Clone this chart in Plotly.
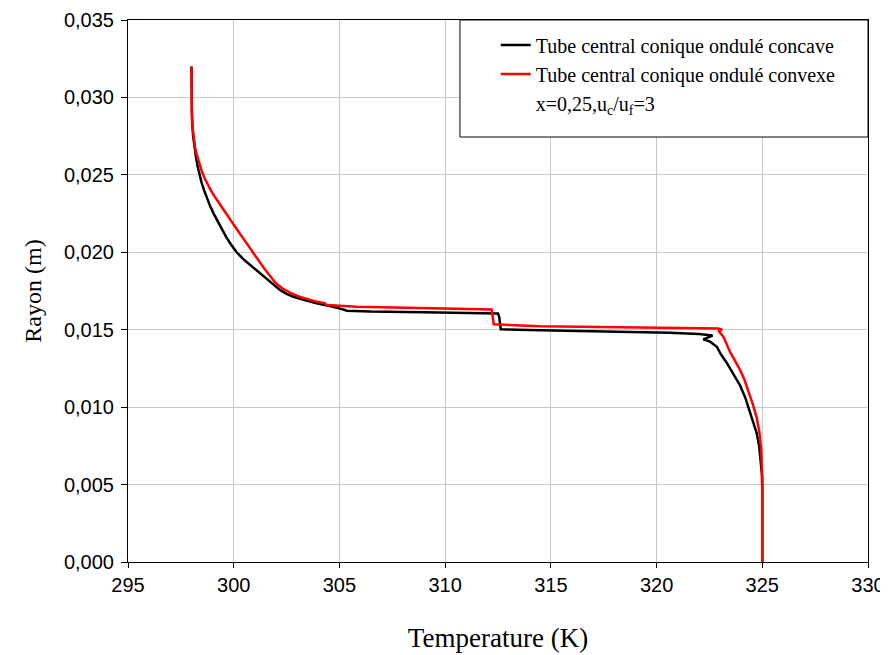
import plotly.graph_objects as go

# Concave (black) series: temperature (K) and radius (m)
concave_T = [298.0, 298.0, 298.03, 298.08, 298.14, 298.22, 298.30, 298.38, 298.48, 298.60,
             298.73, 298.88, 299.05, 299.24, 299.43, 299.64, 299.87, 300.14, 300.5, 300.93,
             301.3, 301.64, 302.19, 302.5, 302.82, 303.4, 303.92, 304.6, 305.03, 305.2,
             305.34, 306.45, 308.97, 312.36, 312.50, 312.56, 312.63, 314.5, 318.0, 320.6,
             322.0, 322.53, 322.65, 322.21, 322.53, 322.85, 323.05, 323.3, 323.6, 323.95,
             324.2, 324.45, 324.62, 324.74, 324.85, 324.93, 324.98, 325.0, 325.0]
concave_r = [0.0320, 0.0300, 0.0285, 0.0275, 0.0268, 0.0261, 0.0255, 0.0250, 0.0245, 0.0240,
             0.0235, 0.0230, 0.0225, 0.0220, 0.0215, 0.0210, 0.0205, 0.0200, 0.0195, 0.0190,
             0.0186, 0.0182, 0.01757, 0.01732, 0.01713, 0.0169, 0.01671, 0.01652, 0.01638, 0.0163,
             0.01623, 0.01617, 0.01612, 0.01606, 0.01604, 0.0158, 0.01503, 0.01497, 0.0149, 0.01481,
             0.01472, 0.01466, 0.01462, 0.01438, 0.01423, 0.0139, 0.0134, 0.0129, 0.0122, 0.0114,
             0.0106, 0.0096, 0.0089, 0.0083, 0.0075, 0.0066, 0.0057, 0.0047, 0.0]

# Convex (red) series
convex_T = [298.0, 298.0, 298.02, 298.06, 298.12, 298.17, 298.23, 298.31, 298.40, 298.50,
            298.62, 298.76, 298.92, 299.10, 299.29, 299.64, 299.89, 300.14, 300.39, 300.64,
            300.89, 301.15, 301.42, 301.70, 302.0, 302.32, 302.68, 303.1, 303.55, 303.95,
            304.3, 304.4, 305.82, 312.12, 312.2, 312.3, 314.49, 320.16, 322.3, 322.9,
            323.1, 322.95, 323.16, 323.3, 323.5, 323.71, 323.95, 324.15, 324.34, 324.55,
            324.74, 324.86, 324.94, 324.98, 325.0, 325.0]
convex_r = [0.0320, 0.0300, 0.0290, 0.0280, 0.0272, 0.0268, 0.0264, 0.0260, 0.0256, 0.0252,
            0.0248, 0.0244, 0.0240, 0.0236, 0.0232, 0.0225, 0.0220, 0.0215, 0.0210, 0.0205,
            0.0200, 0.0195, 0.0190, 0.0185, 0.0180, 0.01765, 0.01738, 0.01713, 0.01693, 0.0168,
            0.01672, 0.0166, 0.01649, 0.01632, 0.0163, 0.01535, 0.01522, 0.01513, 0.01512, 0.01508,
            0.01502, 0.0149, 0.01455, 0.0141, 0.0135, 0.0130, 0.0124, 0.0118, 0.0111, 0.0102,
            0.0093, 0.0084, 0.0074, 0.0064, 0.0055, 0.0]

series_names = ["Tube central conique ondulé concave",
                "Tube central conique ondulé convexe",
                "x=0,25,u<sub>c</sub>/u<sub>f</sub>=3"]
x_ticks = [295, 300, 305, 310, 315, 320, 325, 330]
y_ticks = [0.0, 0.005, 0.010, 0.015, 0.020, 0.025, 0.030, 0.035]

fig = go.Figure()
fig.add_trace(go.Scatter(x=concave_T, y=concave_r, mode="lines", name=series_names[0],
                         line=dict(color="#000000", width=2.5)))
fig.add_trace(go.Scatter(x=convex_T, y=convex_r, mode="lines", name=series_names[1],
                         line=dict(color="#FF0000", width=2.5)))
fig.add_trace(go.Scatter(x=[None], y=[None], mode="lines", name=series_names[2],
                         line=dict(color="rgba(0,0,0,0)", width=0)))

fig.add_shape(type="rect", xref="paper", yref="paper", x0=0.4486, x1=1.0, y0=0.7841, y1=1.0,
              line=dict(color="black", width=1), fillcolor="white", layer="above")

fig.update_layout(
    width=880, height=647,
    margin=dict(l=120, r=20, t=12, b=93),
    paper_bgcolor="white", plot_bgcolor="white",
    separators=",.",
    showlegend=True,
    legend=dict(x=0.497, y=0.990, xanchor="left", yanchor="top",
                bgcolor="rgba(0,0,0,0)", borderwidth=0,
                font=dict(family="Liberation Serif", size=20, color="black"),
                tracegroupgap=0),
    xaxis=dict(range=[295, 330], tickvals=x_ticks, ticks="outside", ticklen=5,
               tickcolor="black", showline=True, linecolor="black", linewidth=1, mirror=True,
               showgrid=True, gridcolor="#C8C8C8", gridwidth=1, zeroline=False, automargin=False,
               tickfont=dict(family="Liberation Sans", size=20, color="black"),
               title=dict(text="Temperature (K)", standoff=33,
                          font=dict(family="Liberation Serif", size=27, color="black"))),
    yaxis=dict(range=[0, 0.035], tickvals=y_ticks, tickformat=".3f", ticks="outside", ticklen=6,
               tickcolor="black", showline=True, linecolor="black", linewidth=1, mirror=True,
               showgrid=True, gridcolor="#C8C8C8", gridwidth=1, zeroline=False, automargin=False,
               ticklabelstandoff=3,
               tickfont=dict(family="Liberation Sans", size=20, color="black"),
               title=dict(text="Rayon (m)", standoff=15,
                          font=dict(family="Liberation Serif", size=24, color="black"))),
)

fig.write_html("out.html")
